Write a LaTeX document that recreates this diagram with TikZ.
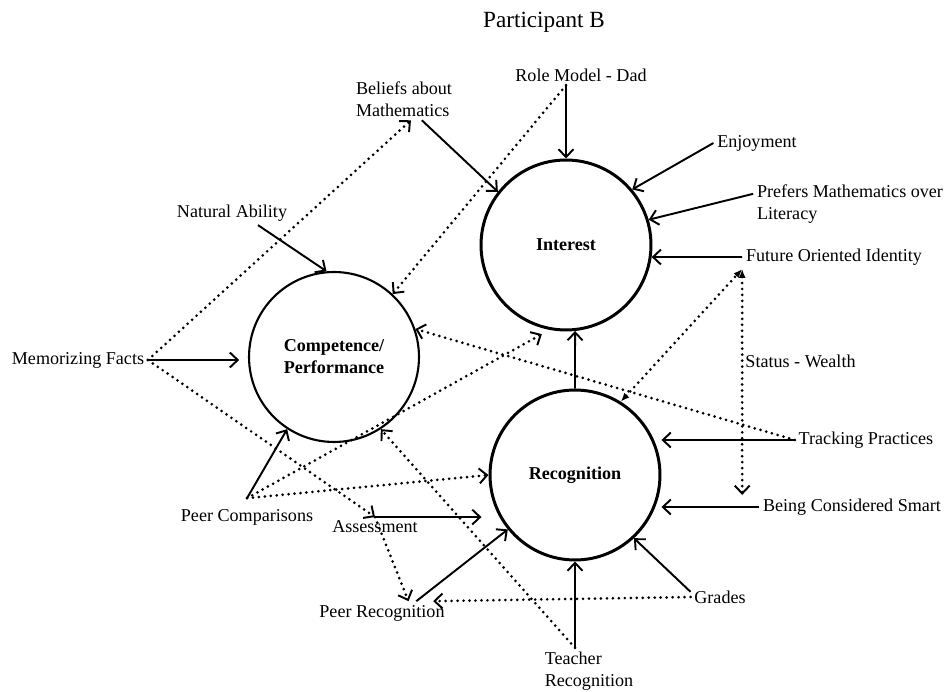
\documentclass[tikz,border=0pt]{standalone}
\usepackage{fontspec}
\setmainfont{Liberation Serif}
\usepackage{tikz}
\usetikzlibrary{arrows.meta}

\begin{document}
\begin{tikzpicture}[x=0.02cm,y=-0.02cm]
\tikzstyle{every node}=[font=\fontsize{10.3}{12.5}\selectfont]
\tikzstyle{construct}=[draw,circle,minimum size=3.4cm,line width=1.7pt,align=center,font=\fontsize{10.3}{12.5}\selectfont\bfseries]
\tikzstyle{factor}=[inner sep=2pt,align=left]
\tikzstyle{link}=[line width=1.1pt,-{Straight Barb[length=4.5pt,width=8.5pt]}]
\tikzstyle{maybe}=[line width=1.7pt,dash pattern=on 0pt off 3.4pt,line cap=round,-{Straight Barb[length=4.5pt,width=8.5pt,line width=1.1pt]}]
\useasboundingbox (0,0) rectangle (950,692);
\node (title) at (544,22) {\fontsize{13.2}{15}\selectfont Participant B};
\node [construct] (interest) at (566,245) {Interest};
\node [construct,line width=1.2pt] (competence) at (334,357) {Competence/\\Performance};
\node [construct] (recognition) at (575,475) {Recognition};
\node [factor] (memo) at (78,360) {Memorizing Facts};
\node [factor] (natab) at (232,213) {Natural Ability};
\node [factor] (beliefs) at (404,99) {Beliefs about\\Mathematics};
\node [factor] (role) at (581,75) {Role Model - Dad};
\node [factor] (enjoy) at (757,143) {Enjoyment};
\node [factor] (prefers) at (850,204) {Prefers Mathematics over\\Literacy};
\node [factor] (future) at (834,257) {Future Oriented Identity};
\node [factor] (tracking) at (866,440) {Tracking Practices};
\node [factor] (smart) at (852,507) {Being Considered Smart};
\node [factor] (grades) at (720,597) {Grades};
\node [factor] (teacher) at (589,671) {Teacher\\Recognition};
\node [factor] (peerrec) at (382,613) {Peer Recognition};
\node [factor] (assess) at (375,527) {Assessment};
\node [factor] (peercomp) at (247,517) {Peer Comparisons};
\coordinate (rolept) at (role.south -| interest.north);
\coordinate (teachpt) at (teacher.north -| recognition.south);
\coordinate (pcpt) at ([yshift=4pt]peercomp.north);
\draw [link,shorten >=5pt] (memo.east) -- (memo.east -| competence.west);
\draw [link] (natab.-25) -- (competence.95);
\draw [link] (beliefs.-50) -- (interest.142);
\draw [link] (rolept) -- (interest.north);
\draw [link] (enjoy.west) -- (interest.40);
\draw [link] (prefers.174) -- (interest.17);
\draw [link] (future.west) -- (interest.-8);
\draw [link] (recognition.north) -- (interest.-84);
\draw [link] (tracking.west) -- (tracking.west -| recognition.east);
\draw [link] (smart.west) -- (smart.west -| recognition.east);
\draw [link] (grades.170) -- (recognition.-47);
\draw [link] (teachpt) -- (recognition.south);
\draw [link] (peerrec.19) -- (recognition.-141);
\draw [link,shorten >=4pt] (assess.north) -- (assess.north -| recognition.west);
\draw [link] (pcpt) -- (competence.-123);
\draw [maybe] (memo.east) -- (beliefs.-72);
\draw [maybe] (memo.east) -- (assess.north);
\draw [maybe] (rolept) -- (competence.47);
\draw [maybe] (tracking.west) -- (competence.19);
\draw [maybe,{Latex[length=5pt,width=4pt]}-{Latex[length=5pt,width=4pt]}] (recognition.58) -- (future.south west);
\draw [maybe,{Latex[length=5pt,width=4pt]}-{Straight Barb[length=4.5pt,width=8.5pt,line width=1.1pt]}] (future.south west) -- (future.south west |- smart.north) node [pos=0.41,right,inner sep=1pt] (status) {Status - Wealth};
\draw [maybe,shorten >=5pt] (pcpt) -- (interest.-101);
\draw [maybe] (pcpt) -- (recognition.west);
\draw [maybe] (teachpt) -- (competence.-57);
\draw [maybe] (grades.west) -- (peerrec.13);
\draw [maybe] (assess.north) -- (peerrec.24);
\end{tikzpicture}
\end{document}
